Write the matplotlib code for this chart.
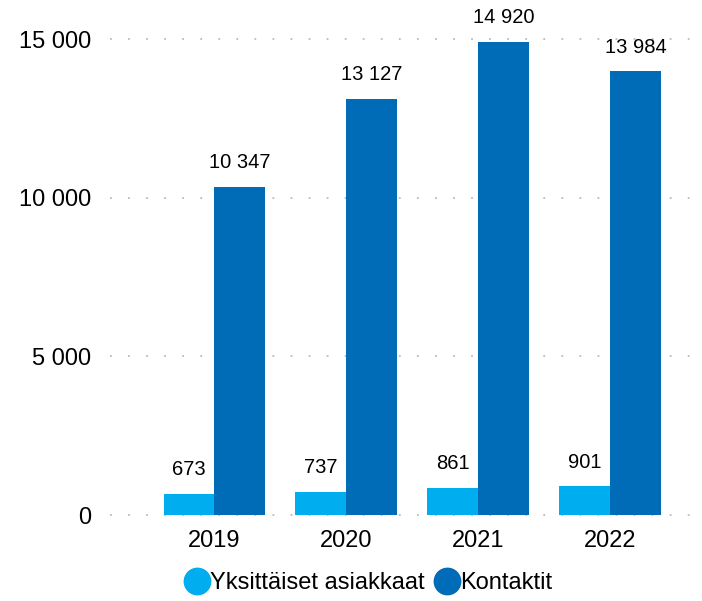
import numpy as np
import matplotlib.pyplot as plt
from matplotlib.lines import Line2D

plt.rcParams['font.family'] = ['Liberation Sans', 'DejaVu Sans']

years = ['2019', '2020', '2021', '2022']
asiakkaat = [673, 737, 861, 901]
kontaktit = [10347, 13127, 14920, 13984]
yticks = [0, 5000, 10000, 15000]

light = '#00adef'
dark = '#006bb6'


def fmt(v):
    return f"{v:,}".replace(',', ' ')


fig = plt.figure(figsize=(7.02, 6.01), dpi=100)
ax = fig.add_axes([0.157, 0.143, 0.84, 0.792])

x = np.arange(len(years))
w = 0.386
b1 = ax.bar(x - w / 2, asiakkaat, w, color=light, zorder=3)
b2 = ax.bar(x + w / 2, kontaktit, w, color=dark, zorder=3)

for bars, vals in [(b1, asiakkaat), (b2, kontaktit)]:
    for r, v in zip(bars, vals):
        ax.text(r.get_x() + r.get_width() / 2, v + 450, fmt(v),
                ha='center', va='bottom', fontsize=14.5, clip_on=False)

ax.set_xlim(-0.79, 3.68)
ax.set_ylim(0, 15000)
ax.set_xticks(x)
ax.set_xticklabels(years, fontsize=17)
ax.set_yticks(yticks)
ax.set_yticklabels([fmt(v) for v in yticks], fontsize=17)
ax.tick_params(axis='x', length=0, pad=11)
ax.tick_params(axis='y', length=0, pad=14)
for s in ax.spines.values():
    s.set_visible(False)
for v in yticks:
    ax.axhline(v, color='#bbbbbb', lw=1.3, ls=(0, (1, 9)), zorder=1, clip_on=False)

handles = [Line2D([], [], marker='o', ls='none', ms=19, color=light),
           Line2D([], [], marker='o', ls='none', ms=19, color=dark)]
fig.legend(handles, ['Yksittäiset asiakkaat', 'Kontaktit'], loc='center',
           bbox_to_anchor=(368 / 702, 1 - 583 / 601), ncol=2, frameon=False,
           fontsize=17, handletextpad=0.0, columnspacing=0.4, handlelength=1.1)

fig.savefig('out.png', dpi=100)
